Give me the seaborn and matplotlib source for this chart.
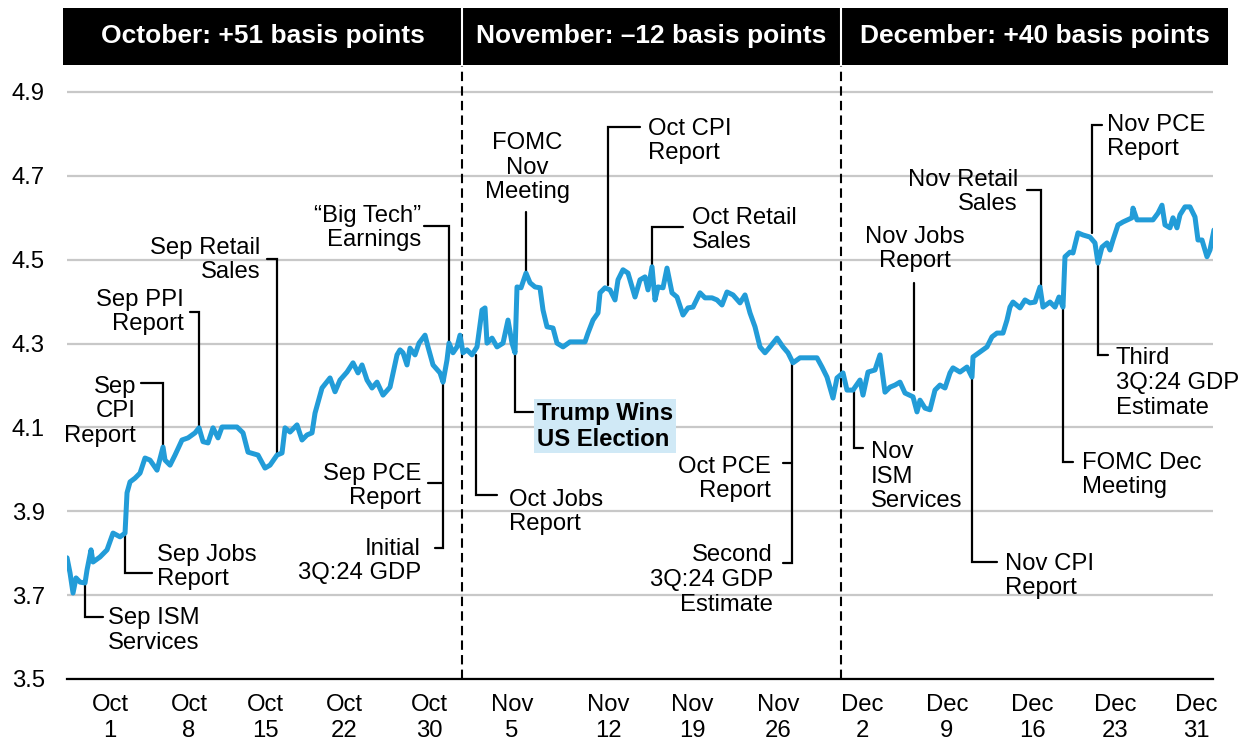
import matplotlib
matplotlib.use('Agg')
import matplotlib.pyplot as plt
import matplotlib.transforms as mtransforms
from matplotlib.patches import Rectangle
import seaborn as sns
import pandas as pd

# 10-year Treasury yield (%), Oct-Dec 2024.
# session = position along the (trading-time) x axis
session = [0.0, 0.3, 0.6, 0.9, 1.3, 1.8, 2.0, 2.4, 2.6, 3.3, 4.0, 4.6, 5.3, 5.8,
           6.0, 6.3, 6.8, 7.3, 7.8, 8.3, 9.0, 9.6, 9.8, 10.3, 10.8, 11.5, 12.1,
           12.8, 13.2, 13.6, 14.1, 14.6, 15.1, 15.5, 17.0, 17.6, 18.1, 19.1, 19.8,
           20.3, 21.0, 21.5, 21.8, 22.3, 23.0, 23.5, 24.0, 24.5, 24.8, 25.5, 26.3,
           26.8, 27.3, 28.0, 28.6, 29.1, 29.5, 30.0, 30.5, 31.0, 31.6, 32.3, 33.0,
           33.3, 33.6, 34.0, 34.3, 34.8, 35.2, 35.8, 36.1, 36.6, 37.3, 37.6, 38.0,
           38.2, 38.6, 39.0, 39.3, 39.6, 40.0, 40.5, 41.0, 41.5, 41.8, 42.0, 42.5,
           43.0, 43.6, 44.1, 44.5, 44.8, 45.0, 45.4, 45.9, 46.3, 46.8, 47.3, 47.6,
           48.0, 48.6, 49.0, 49.6, 50.3, 51.8, 52.1, 52.6, 53.1, 53.3, 53.8, 54.3,
           54.8, 55.1, 55.6, 56.1, 56.8, 57.3, 57.8, 58.1, 58.5, 58.8, 59.1, 59.6,
           60.0, 60.5, 61.0, 61.6, 62.1, 62.6, 63.3, 63.8, 64.5, 65.0, 65.5, 66.0,
           66.6, 67.3, 67.8, 68.3, 68.8, 69.3, 69.8, 70.3, 71.0, 71.6, 72.1, 72.6,
           73.3, 75.0, 75.5, 76.0, 76.6, 77.0, 77.6, 78.0, 78.6, 79.3, 79.6, 80.1,
           80.8, 81.3, 81.8, 82.3, 82.8, 83.3, 83.8, 84.6, 85.0, 85.3, 85.8, 86.3,
           86.8, 87.3, 87.8, 88.3, 88.6, 89.3, 90.0, 90.5, 90.6, 91.3, 92.0, 92.5,
           93.0, 93.6, 94.0, 94.3, 94.6, 95.3, 95.8, 96.3, 96.8, 97.3, 97.6, 98.3,
           98.8, 99.2, 99.6, 99.8, 100.3, 100.6, 101.1, 101.6, 102.3, 102.8, 103.1,
           103.5, 104.0, 104.3, 104.6, 105.1, 105.6, 106.5, 106.6, 107.0, 108.6,
           109.1, 109.5, 109.8, 110.3, 110.6, 111.0, 111.3, 111.8, 112.3, 112.8,
           113.1, 113.5, 114.0, 114.3, 114.7]
yield_pct = [3.789, 3.753, 3.705, 3.741, 3.731, 3.729, 3.760, 3.808, 3.779, 3.791,
             3.808, 3.848, 3.839, 3.848, 3.944, 3.970, 3.979, 3.991, 4.027, 4.022,
             3.998, 4.053, 4.022, 4.010, 4.034, 4.070, 4.075, 4.087, 4.099, 4.066,
             4.063, 4.099, 4.075, 4.101, 4.101, 4.087, 4.041, 4.034, 4.003, 4.010,
             4.034, 4.039, 4.099, 4.089, 4.106, 4.070, 4.082, 4.087, 4.134, 4.194,
             4.218, 4.185, 4.213, 4.232, 4.254, 4.230, 4.249, 4.213, 4.194, 4.208,
             4.177, 4.196, 4.273, 4.285, 4.278, 4.249, 4.289, 4.273, 4.301, 4.320,
             4.292, 4.249, 4.230, 4.208, 4.261, 4.301, 4.278, 4.292, 4.320, 4.278,
             4.285, 4.273, 4.292, 4.380, 4.385, 4.301, 4.313, 4.292, 4.301, 4.356,
             4.301, 4.278, 4.435, 4.433, 4.468, 4.445, 4.435, 4.433, 4.380, 4.340,
             4.337, 4.301, 4.292, 4.304, 4.304, 4.325, 4.356, 4.373, 4.421, 4.433,
             4.428, 4.404, 4.452, 4.476, 4.468, 4.411, 4.452, 4.459, 4.428, 4.483,
             4.404, 4.435, 4.433, 4.480, 4.421, 4.411, 4.368, 4.385, 4.387, 4.421,
             4.409, 4.409, 4.404, 4.392, 4.423, 4.416, 4.397, 4.416, 4.373, 4.340,
             4.292, 4.278, 4.292, 4.313, 4.292, 4.278, 4.254, 4.266, 4.266, 4.244,
             4.220, 4.170, 4.218, 4.230, 4.189, 4.189, 4.213, 4.177, 4.232, 4.237,
             4.273, 4.184, 4.196, 4.201, 4.208, 4.182, 4.173, 4.137, 4.165, 4.146,
             4.142, 4.189, 4.201, 4.194, 4.230, 4.242, 4.232, 4.244, 4.220, 4.268,
             4.280, 4.292, 4.316, 4.325, 4.325, 4.356, 4.387, 4.399, 4.385, 4.404,
             4.397, 4.399, 4.435, 4.387, 4.399, 4.387, 4.411, 4.387, 4.507, 4.518,
             4.516, 4.564, 4.559, 4.554, 4.540, 4.492, 4.530, 4.540, 4.523, 4.547,
             4.583, 4.590, 4.600, 4.623, 4.595, 4.595, 4.611, 4.630, 4.583, 4.576,
             4.600, 4.576, 4.607, 4.626, 4.626, 4.602, 4.547, 4.547, 4.507, 4.523,
             4.571]

tick_pos = [4.3, 12.2, 19.8, 27.7, 36.2, 44.5, 54.1, 62.5, 71.1, 79.5, 88.0,
            96.5, 104.8, 112.9]
tick_labels = ['Oct\n1', 'Oct\n8', 'Oct\n15', 'Oct\n22', 'Oct\n30', 'Nov\n5',
               'Nov\n12', 'Nov\n19', 'Nov\n26', 'Dec\n2', 'Dec\n9', 'Dec\n16',
               'Dec\n23', 'Dec\n31']
y_ticks = [3.5, 3.7, 3.9, 4.1, 4.3, 4.5, 4.7, 4.9]

month_breaks = [39.5, 77.4]
month_titles = ['October: +51 basis points', 'November: \u201312 basis points',
                'December: +40 basis points']

# event call-outs: text, leader path (session, yield), text anchor, alignment
events = [
    ('Sep ISM\nServices', [(1.8, 3.729), (1.8, 3.648), (3.6, 3.648)], (4.1, 3.615), 'left'),
    ('Sep Jobs\nReport', [(5.8, 3.848), (5.8, 3.753), (8.5, 3.753)], (9.0, 3.767), 'left'),
    ('Sep\nCPI\nReport', [(9.6, 4.053), (9.6, 4.206), (7.4, 4.206)], (6.9, 4.139), 'right'),
    ('Sep PPI\nReport', [(13.2, 4.099), (13.2, 4.375), (12.3, 4.375)], (11.7, 4.375), 'right'),
    ('Sep Retail\nSales', [(21.0, 4.034), (21.0, 4.502), (20.0, 4.502)], (19.3, 4.499), 'right'),
    ('\u201cBig Tech\u201d\nEarnings', [(38.2, 4.301), (38.2, 4.580), (35.7, 4.580)], (35.4, 4.576), 'right'),
    ('Sep PCE\nReport', [(36.1, 3.967), (37.6, 3.967)], (35.4, 3.960), 'right'),
    ('Initial\n3Q:24 GDP', [(37.6, 4.208), (37.6, 3.812), (36.8, 3.812)], (35.4, 3.781), 'right'),
    ('Oct Jobs\nReport', [(40.9, 4.273), (40.9, 3.939), (43.0, 3.939)], (44.2, 3.898), 'left'),
    ('FOMC\nNov\nMeeting', [(45.9, 4.468), (45.9, 4.614)], (46.0, 4.719), 'center'),
    ('Oct CPI\nReport', [(54.1, 4.440), (54.1, 4.817), (57.3, 4.817)], (58.1, 4.783), 'left'),
    ('Oct Retail\nSales', [(58.5, 4.483), (58.5, 4.578), (61.6, 4.578)], (62.5, 4.571), 'left'),
    ('Oct PCE\nReport', [(71.6, 4.015), (72.5, 4.015)], (70.4, 3.977), 'right'),
    ('Second\n3Q:24 GDP\nEstimate', [(72.5, 4.261), (72.5, 3.777), (71.6, 3.777)], (70.6, 3.736), 'right'),
    ('Nov\nISM\nServices', [(78.7, 4.189), (78.7, 4.051), (79.6, 4.051)], (80.4, 3.982), 'left'),
    ('Nov Jobs\nReport', [(84.7, 4.189), (84.7, 4.444)], (84.8, 4.526), 'center'),
    ('Nov CPI\nReport', [(90.5, 4.218), (90.5, 3.779), (93.0, 3.779)], (93.8, 3.746), 'left'),
    ('Nov Retail\nSales', [(97.4, 4.435), (97.4, 4.666), (96.0, 4.666)], (95.1, 4.662), 'right'),
    ('FOMC Dec\nMeeting', [(99.6, 4.387), (99.6, 4.018), (100.6, 4.018)], (101.5, 3.987), 'left'),
    ('Nov PCE\nReport', [(102.5, 4.564), (102.5, 4.821), (103.5, 4.821)], (104.0, 4.793), 'left'),
    ('Third\n3Q:24 GDP\nEstimate', [(103.1, 4.492), (103.1, 4.273), (104.1, 4.273)], (104.9, 4.206), 'left'),
]
headline = ('Trump Wins\nUS Election', [(44.8, 4.278), (44.8, 4.137), (46.6, 4.137)], (47.0, 4.103))

BLUE = '#229cd8'
FS = 17.2
HEAD_FS = 19


def main():
    sns.set_theme(style='white')
    plt.rcParams['font.family'] = ['Liberation Sans', 'DejaVu Sans']

    df = pd.DataFrame({'session': session, 'yield': yield_pct})

    fig = plt.figure(figsize=(12.39, 7.44), dpi=100)
    ax = fig.add_axes([0.0541, 0.0874, 0.9249, 0.8239])

    sns.lineplot(data=df, x='session', y='yield', color=BLUE, lw=3.6,
                 estimator=None, sort=False, ax=ax, zorder=4)

    ax.set_xlim(0, 114.6)
    ax.set_ylim(3.5, 4.962)
    ax.set_xticks(tick_pos)
    ax.set_xticklabels(tick_labels, fontsize=FS, linespacing=1.2)
    ax.set_yticks(y_ticks)
    ax.set_yticklabels([f'{v:.1f}' for v in y_ticks], fontsize=FS)
    ax.tick_params(axis='x', length=0, pad=11, labelcolor='black')
    ax.tick_params(axis='y', length=0, pad=16, labelcolor='black')
    ax.set_xlabel('')
    ax.set_ylabel('')
    ax.grid(axis='y', color='#c8c8c8', lw=1.6, zorder=0)
    ax.grid(axis='x', visible=False)
    for side in ['left', 'right', 'top']:
        ax.spines[side].set_visible(False)
    ax.spines['bottom'].set_color('black')
    ax.spines['bottom'].set_linewidth(1.6)
    ax.spines['bottom'].set_zorder(5)

    # month boundaries
    for b in month_breaks:
        ax.axvline(b, color='black', lw=1.5, ls=(0, (4.5, 2.5)), zorder=3)

    # header band
    trans = mtransforms.blended_transform_factory(ax.transData, fig.transFigure)
    edges = [-0.4] + month_breaks + [116.1]
    y0, y1 = 1 - 65 / 744, 1 - 8 / 744
    ax.add_patch(Rectangle((edges[0], y0), edges[-1] - edges[0], y1 - y0,
                           transform=trans, facecolor='black', edgecolor='none',
                           clip_on=False))
    for b in month_breaks:
        ax.plot([b, b], [y0, y1], color='white', lw=1.5, transform=trans,
                clip_on=False)
    for i, title in enumerate(month_titles):
        ax.text((edges[i] + edges[i + 1]) / 2, (y0 + y1) / 2, title,
                transform=trans, ha='center', va='center', color='white',
                fontsize=HEAD_FS, fontweight='bold')

    # event call-outs
    for label, path, (tx, ty), ha in events:
        xs, ys = zip(*path)
        ax.plot(xs, ys, color='black', lw=1.6, zorder=2, clip_on=False,
                solid_joinstyle='miter')
        ax.text(tx, ty, label, ha=ha, va='center', fontsize=FS,
                linespacing=1.15, color='black')

    label, path, (tx, ty) = headline
    xs, ys = zip(*path)
    ax.plot(xs, ys, color='black', lw=1.6, zorder=2, solid_joinstyle='miter')
    ax.text(tx, ty, label, ha='left', va='center', fontsize=FS,
            fontweight='bold', linespacing=1.15, color='black',
            bbox=dict(boxstyle='square,pad=0.12', fc='#d0e9f6', ec='none'))

    fig.savefig('out.png', dpi=100)


if __name__ == '__main__':
    main()
